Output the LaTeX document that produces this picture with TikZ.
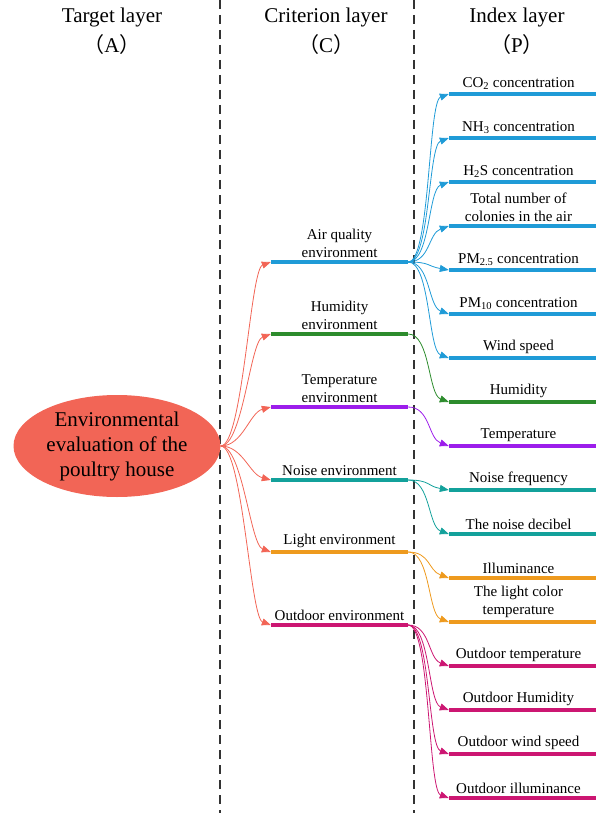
\documentclass[tikz,border=0pt]{standalone}
\usepackage{fontspec}
\setmainfont{Liberation Serif}
\newfontfamily\cjk{Noto Sans CJK SC}
\usetikzlibrary{arrows.meta, shapes.geometric}

\definecolor{goalred}{HTML}{F26556}
\definecolor{airblue}{HTML}{1F9BD7}
\definecolor{humgreen}{HTML}{2D8C2D}
\definecolor{tempviolet}{HTML}{9C1DEB}
\definecolor{noiseteal}{HTML}{13A19B}
\definecolor{lightorange}{HTML}{EE9A1E}
\definecolor{outmagenta}{HTML}{CC1672}

\tikzset{
  head/.style={font=\fontsize{21}{25}\selectfont, inner sep=0pt},
  txt/.style={font=\fontsize{15}{18}\selectfont, inner sep=1pt, align=center},
  cbar/.style={rectangle, fill=#1, inner sep=0pt, minimum width=137pt, minimum height=4.5pt},
  ibar/.style={rectangle, fill=#1, inner sep=0pt, minimum width=147pt, minimum height=4.5pt},
  link/.style={draw=#1, line width=0.8pt, distance=22pt, -{Triangle[length=9pt,width=7pt]}},
  divider/.style={draw=black!80, line width=1.5pt, dash pattern=on 9pt off 6pt}
}

\begin{document}
\begin{tikzpicture}[x=1pt, y=-1pt, label distance=1pt]

    \useasboundingbox (0,0) rectangle (596,813);

    \draw[divider] (220,0) -- (220,813);
    \draw[divider] (414,0) -- (414,813);

    \node[head] (hA) at (112,17) {Target layer};
    \node[head] (hA2) at (112,45) {{\cjk（}A{\cjk）}};
    \node[head] (hC) at (326,17) {Criterion layer};
    \node[head] (hC2) at (326,45) {{\cjk（}C{\cjk）}};
    \node[head] (hP) at (517,17) {Index layer};
    \node[head] (hP2) at (517,45) {{\cjk（}P{\cjk）}};

    \node[ellipse, fill=goalred, inner sep=0pt, minimum width=207pt, minimum height=102pt,
          align=center, font=\fontsize{21}{25}\selectfont] (goal) at (117,446)
          {Environmental\\evaluation of the\\poultry house};

    % criterion layer
    \node[cbar=airblue, label={[txt]above:{Air quality\\environment}}] (c1) at (339.5,262) {};
    \node[cbar=humgreen, label={[txt]above:{Humidity\\environment}}] (c2) at (339.5,334) {};
    \node[cbar=tempviolet, label={[txt]above:{Temperature\\environment}}] (c3) at (339.5,407) {};
    \node[cbar=noiseteal, label={[txt]above:Noise environment}] (c4) at (339.5,480) {};
    \node[cbar=lightorange, label={[txt]above:Light environment}] (c5) at (339.5,552) {};
    \node[cbar=outmagenta, label={[txt]above:Outdoor environment}] (c6) at (339.5,625) {};

    % index layer
    \node[ibar=airblue, label={[txt,xshift=-4pt]above:CO\textsubscript{2} concentration}] (p1) at (522.5,94) {};
    \node[ibar=airblue, label={[txt,xshift=-4pt]above:NH\textsubscript{3} concentration}] (p2) at (522.5,138) {};
    \node[ibar=airblue, label={[txt,xshift=-4pt]above:H\textsubscript{2}S concentration}] (p3) at (522.5,182) {};
    \node[ibar=airblue, label={[txt,xshift=-4pt]above:{Total number of\\colonies in the air}}] (p4) at (522.5,226) {};
    \node[ibar=airblue, label={[txt,xshift=-4pt]above:PM\textsubscript{2.5} concentration}] (p5) at (522.5,270) {};
    \node[ibar=airblue, label={[txt,xshift=-4pt]above:PM\textsubscript{10} concentration}] (p6) at (522.5,314) {};
    \node[ibar=airblue, label={[txt,xshift=-4pt]above:Wind speed}] (p7) at (522.5,358) {};
    \node[ibar=humgreen, label={[txt,xshift=-4pt]above:Humidity}] (p8) at (522.5,402) {};
    \node[ibar=tempviolet, label={[txt,xshift=-4pt]above:Temperature}] (p9) at (522.5,446) {};
    \node[ibar=noiseteal, label={[txt,xshift=-4pt]above:Noise frequency}] (p10) at (522.5,490) {};
    \node[ibar=noiseteal, label={[txt,xshift=-4pt]above:The noise decibel}] (p11) at (522.5,534) {};
    \node[ibar=lightorange, label={[txt,xshift=-4pt]above:Illuminance}] (p12) at (522.5,578) {};
    \node[ibar=lightorange, label={[txt,xshift=-4pt]above:{The light color\\temperature}}] (p13) at (522.5,622) {};
    \node[ibar=outmagenta, label={[txt,xshift=-4pt]above:Outdoor temperature}] (p14) at (522.5,666) {};
    \node[ibar=outmagenta, label={[txt,xshift=-4pt]above:Outdoor Humidity}] (p15) at (522.5,710) {};
    \node[ibar=outmagenta, label={[txt,xshift=-4pt]above:Outdoor wind speed}] (p16) at (522.5,754) {};
    \node[ibar=outmagenta, label={[txt,xshift=-4pt]above:Outdoor illuminance}] (p17) at (522.5,798) {};

    % target -> criterion
    \draw[link=goalred] (goal.east) to[out=0,in=200] (c1.west);
    \draw[link=goalred] (goal.east) to[out=0,in=200] (c2.west);
    \draw[link=goalred] (goal.east) to[out=0,in=195] (c3.west);
    \draw[link=goalred] (goal.east) to[out=0,in=165] (c4.west);
    \draw[link=goalred] (goal.east) to[out=0,in=160] (c5.west);
    \draw[link=goalred] (goal.east) to[out=0,in=160] (c6.west);

    % criterion -> index
    \draw[link=airblue] (c1.east) to[out=0,in=200] (p1.west);
    \draw[link=airblue] (c1.east) to[out=0,in=200] (p2.west);
    \draw[link=airblue] (c1.east) to[out=0,in=200] (p3.west);
    \draw[link=airblue] (c1.east) to[out=0,in=200] (p4.west);
    \draw[link=airblue] (c1.east) to[out=0,in=170] (p5.west);
    \draw[link=airblue] (c1.east) to[out=0,in=160] (p6.west);
    \draw[link=airblue] (c1.east) to[out=0,in=160] (p7.west);
    \draw[link=humgreen] (c2.east) to[out=0,in=160] (p8.west);
    \draw[link=tempviolet] (c3.east) to[out=0,in=160] (p9.west);
    \draw[link=noiseteal] (c4.east) to[out=0,in=170] (p10.west);
    \draw[link=noiseteal] (c4.east) to[out=0,in=160] (p11.west);
    \draw[link=lightorange] (c5.east) to[out=0,in=160] (p12.west);
    \draw[link=lightorange] (c5.east) to[out=0,in=160] (p13.west);
    \draw[link=outmagenta] (c6.east) to[out=0,in=160] (p14.west);
    \draw[link=outmagenta] (c6.east) to[out=0,in=160] (p15.west);
    \draw[link=outmagenta] (c6.east) to[out=0,in=160] (p16.west);
    \draw[link=outmagenta] (c6.east) to[out=0,in=160] (p17.west);

\end{tikzpicture}
\end{document}
